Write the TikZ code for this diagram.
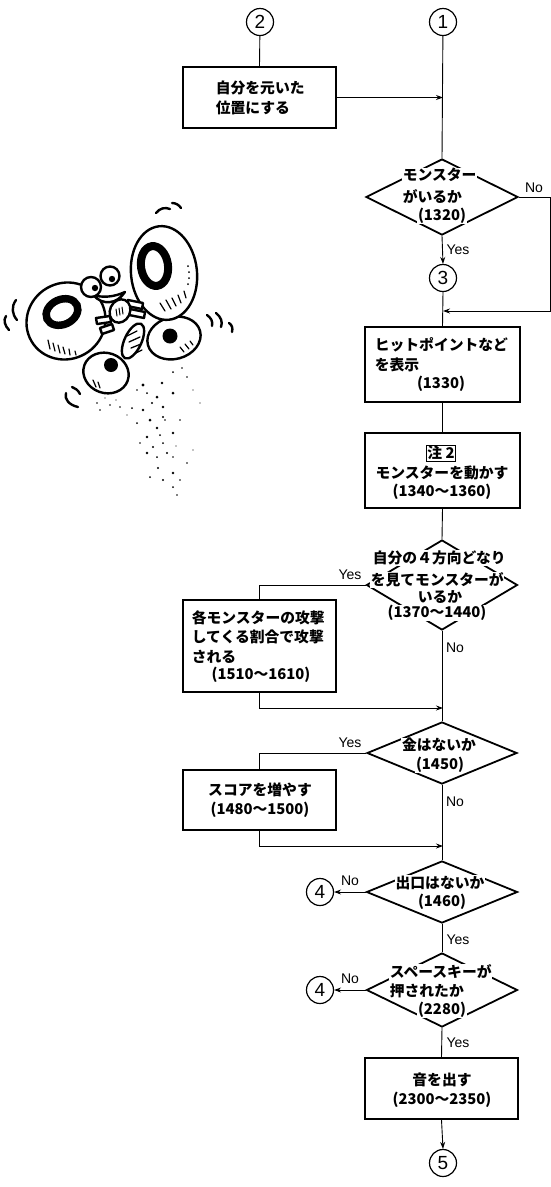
\documentclass[tikz,border=0pt]{standalone}
\usepackage{fontspec}
\setmainfont{Liberation Sans}
\newfontfamily\jp{Noto Sans CJK JP}
\usetikzlibrary{shapes.geometric,arrows.meta}

\begin{document}
\begin{tikzpicture}[x=1pt,y=-1pt,
  box/.style={draw,rectangle,line width=1.6pt,inner sep=0pt},
  dia/.style={draw,diamond,line width=1.8pt,inner sep=0pt},
  conn/.style={line width=0.9pt},
  arr/.style={conn,-{Stealth[length=7pt,width=5pt]}},
  con/.style={draw,circle,line width=1.2pt,minimum size=27pt,inner sep=0pt,font=\fontsize{19}{19}\selectfont},
  jt/.style={font=\jp\bfseries\fontsize{14.8}{19}\selectfont,inner sep=0.6pt},
  jw/.style={jt,fill=white},
  lbl/.style={font=\fontsize{14}{14}\selectfont,inner sep=0pt},
  bfly/.style={line width=2.4pt,line join=round,line cap=round},
  hatch/.style={line width=1.2pt,line cap=round},
]
\useasboundingbox (0,0) rectangle (551,1187);

% ---------- connectors (circles) ----------
\node[con] (c2) at (260,22) {2};
\node[con] (c1) at (443,22) {1};
\node[con] (c3) at (443,278) {3};
\node[con] (c4a) at (320,892) {4};
\node[con] (c4b) at (320,990) {4};
\node[con] (c5) at (443,1163) {5};

% ---------- process boxes ----------
\node[box,minimum width=153pt,minimum height=61pt] (ba) at (259.5,97.5) {};
\node[box,minimum width=155pt,minimum height=75pt] (bb) at (442.5,364.5) {};
\node[box,minimum width=155pt,minimum height=75pt] (bc) at (442.5,470.5) {};
\node[box,minimum width=153pt,minimum height=92pt] (bd) at (259.5,646) {};
\node[box,minimum width=153pt,minimum height=60pt] (be) at (259.5,800) {};
\node[box,minimum width=153pt,minimum height=61pt] (bf) at (441.5,1088.5) {};

% ---------- decisions ----------
\node[dia,minimum width=152pt,minimum height=76pt] (d1) at (442,197) {};
\node[dia,minimum width=151pt,minimum height=90pt] (d2) at (442,585) {};
\node[dia,minimum width=150pt,minimum height=62pt] (d3) at (442,753) {};
\node[dia,minimum width=151pt,minimum height=62pt] (d4) at (442,892) {};
\node[dia,minimum width=151pt,minimum height=74pt] (d5) at (442,990) {};

% ---------- helper points ----------
\coordinate (r1) at (550,197);
\coordinate (r2) at (550,311);
\coordinate (j0) at (443,311);
\coordinate (j1) at (443,708);
\coordinate (j2) at (443,846);

% ---------- flow lines ----------
\draw[conn] (c2) -- (ba.north);
\draw[conn] (c1) -- (d1.north);
\draw[arr] (ba.east) -- (ba.east -| c1);
\draw[arr] (d1.south) -- (c3.north);
\draw[arr] (d1.east) -- (r1) -- (r2) -- (j0);
\draw[conn] (c3.south) -- (bb.north);
\draw[conn] (bb.south) -- (bc.north);
\draw[conn] (bc.south) -- (d2.north);
\draw[conn] (d2.west) -| (bd.north);
\draw[conn] (d2.south) -- (d3.north);
\draw[arr] (bd.south) |- (j1);
\draw[conn] (d3.west) -| (be.north);
\draw[conn] (d3.south) -- (d4.north);
\draw[arr] (be.south) |- (j2);
\draw[arr] (d4.west) -- (c4a.east);
\draw[conn] (d4.south) -- (d5.north);
\draw[arr] (d5.west) -- (c4b.east);
\draw[conn] (d5.south) -- (bf.north);
\draw[arr] (bf.south) -- (c5.north);

% ---------- branch labels ----------
\node[lbl] (n1) at (534,188) {No};
\node[lbl] (y1) at (458,250) {Yes};
\node[lbl] (y2) at (350,575) {Yes};
\node[lbl] (n2) at (455,648) {No};
\node[lbl] (y3) at (350,743) {Yes};
\node[lbl] (n3) at (455,802) {No};
\node[lbl] (n4) at (350,881) {No};
\node[lbl] (y4) at (458,940) {Yes};
\node[lbl] (n5) at (350,979) {No};
\node[lbl] (y5) at (458,1043) {Yes};

% ---------- box texts ----------
\node[jt,anchor=west] (ta1) at (215,88) {自分を元いた};
\node[jt,anchor=west] (ta2) at (215,108) {位置にする};

\node[jt,anchor=west] (tb1) at (374,345) {ヒットポイントなど};
\node[jt,anchor=west] (tb2) at (374,365) {を表示};
\node[jt] (tb3) at (441,384) {(1330)};

\node[jt,draw,line width=0.8pt,inner sep=1pt] (tc1) at (441,453) {注 2};
\node[jt] (tc2) at (442,473) {モンスターを動かす};
\node[jt] (tc3) at (442,492) {(1340～1360)};

\node[jt,anchor=west] (td1) at (191,618) {各モンスターの攻撃};
\node[jt,anchor=west] (td2) at (191,637) {してくる割合で攻撃};
\node[jt,anchor=west] (td3) at (191,657) {される};
\node[jt] (td4) at (261,675) {(1510～1610)};

\node[jt] (te1) at (260,790) {スコアを増やす};
\node[jt] (te2) at (260,810) {(1480～1500)};

\node[jt] (tf1) at (442,1080) {音を出す};
\node[jt] (tf2) at (442,1100) {(2300～2350)};

% ---------- decision texts ----------
\node[jw,anchor=west] (t11) at (402,175) {モンスター};
\node[jw,anchor=west] (t12) at (402,196) {がいるか};
\node[jw] (t13) at (442,216) {(1320)};

\node[jw,anchor=west] (t21) at (372,558) {自分の４方向どなり};
\node[jw,anchor=west] (t22) at (370,580) {を見てモンスターが};
\node[jw] (t23) at (440,597) {いるか};
\node[jw] (t24) at (437,613) {(1370～1440)};

\node[jw] (t31) at (439,745) {金はないか};
\node[jw] (t32) at (440,765) {(1450)};

\node[jw] (t41) at (440,883) {出口はないか};
\node[jw] (t42) at (442,902) {(1460)};

\node[jw,anchor=west] (t51) at (389,972) {スペースキーが};
\node[jw,anchor=west] (t52) at (389,991) {押されたか};
\node[jw] (t53) at (442,1010) {(2280)};

% ---------- butterfly ----------
% lower wings with their spots
\draw[bfly,fill=white] (106,373) ellipse [x radius=23, y radius=20, rotate=-20];
\fill (111,365) circle (7);
\draw[bfly,fill=white] (174,338) ellipse [x radius=27, y radius=21, rotate=15];
\fill (170,336) circle (7.5);
% upper wings with their rings
\draw[bfly,fill=white] (66,321) ellipse [x radius=40, y radius=38, rotate=30];
\draw[line width=7.5pt] (62,312) ellipse [x radius=16.5, y radius=12.5, rotate=25];
\draw[bfly,fill=white] (164,273) ellipse [x radius=33, y radius=47, rotate=6];
\draw[line width=8pt] (154.5,266) ellipse [x radius=13.5, y radius=20, rotate=8];
% wing hatching
\foreach \a/\b/\c/\d in {48/340/50/349, 53/343/55/351, 58/345/60/353, 63/347/65/354, 69/349/70/355, 75/351/76/355,
    160/303/165/311, 166/300/171/309, 172/298/176/306, 178/295/181/303, 184/291/186/298,
    93/380/96/387, 98/382/100/388,
    180/347/184/352, 185/344/189/349, 190/341/193/345}
  \draw[hatch] (\a,\b) -- (\c,\d);
\foreach \x/\y in {188/284, 189/278, 189/272, 188/266}
  \fill (\x,\y) circle (1);
% abdomen
\draw[bfly,fill=white] (133,341) ellipse [x radius=8.5, y radius=19, rotate=-25];
\foreach \a/\b/\c/\d in {127/336/137/331, 129/342/140/337, 131/348/141/344, 134/354/142/350}
  \draw[line width=1.3pt,line cap=round] (\a,\b) -- (\c,\d);
% limbs
\draw[bfly,fill=white] (96,318) -- (110,316) -- (111,322) -- (97,324) -- cycle;
\draw[bfly,fill=white] (100,328) -- (112,324) -- (114,330) -- (102,334) -- cycle;
\draw[bfly,fill=white] (128,300) -- (143,303) -- (142,309) -- (127,306) -- cycle;
\draw[bfly,fill=white] (130,309) -- (145,312) -- (144,318) -- (129,315) -- cycle;
% thorax
\draw[bfly,fill=white] (120,311) ellipse [x radius=10, y radius=12, rotate=-25];
\foreach \a/\b/\c/\d in {116/309/117/316, 119/308/120/315, 122/307/123/314}
  \draw[line width=1pt,line cap=round] (\a,\b) -- (\c,\d);
% head: grin and goggle eyes
\draw[bfly,fill=white] (93,295) .. controls (103,306) and (117,304) .. (125,292) .. controls (114,297) and (103,298) .. (93,295) -- cycle;
\draw[bfly,fill=white] (91,287) circle (10);
\draw[bfly,fill=white] (110,276) circle (9.5);
\fill (95,288) circle (3.2);
\fill (112,279) circle (3.2);
% motion strokes
\draw[bfly] (156,213) .. controls (160,208) and (165,207) .. (170,209);
\draw[bfly] (172,203) .. controls (176,203) and (179,205) .. (181,208);
\draw[bfly] (6,316) .. controls (3,320) and (5,326) .. (9,330);
\draw[bfly] (16,300) .. controls (11,307) and (12,314) .. (17,320);
\draw[bfly] (207,315) .. controls (211,318) and (213,321) .. (212,326);
\draw[bfly] (216,313) .. controls (221,317) and (223,322) .. (221,327);
\draw[bfly] (229,323) .. controls (232,325) and (233,328) .. (232,332);
\draw[bfly] (66,393) .. controls (64,399) and (69,405) .. (78,407);
\draw[bfly] (72,387) .. controls (75,388) and (78,390) .. (80,394);
% falling scales
\foreach \x/\y/\r in {
  143/385/1.6, 162/383/1.4, 173/372/1.0, 182/368/0.8, 187/377/0.9, 157/397/1.5,
  147/393/1.0, 137/390/0.9, 173/393/1.5, 163/407/1.4, 152/403/1.2, 143/410/1.3,
  132/408/1.0, 120/407/0.8, 110/405/0.9, 97/403/0.8, 100/410/0.8, 150/420/1.5,
  163/417/1.2, 137/423/1.0, 157/428/1.3, 165/420/0.9, 147/437/1.4, 160/435/1.0,
  173/433/1.3, 153/447/1.2, 163/443/1.0, 147/453/1.3, 157/457/1.0, 167/453/1.2,
  173/457/0.9, 158/468/1.2, 173/473/1.4, 150/477/1.0, 163/480/1.2, 173/487/1.0,
  180/480/0.8, 177/495/0.9, 187/463/0.8, 193/450/0.7, 200/403/0.7, 193/390/0.7,
  127/415/0.7, 116/400/0.7, 105/398/0.7, 140/443/0.8, 180/420/0.8, 176/446/0.7}
  \fill (\x,\y) circle (\r);
\end{tikzpicture}
\end{document}
